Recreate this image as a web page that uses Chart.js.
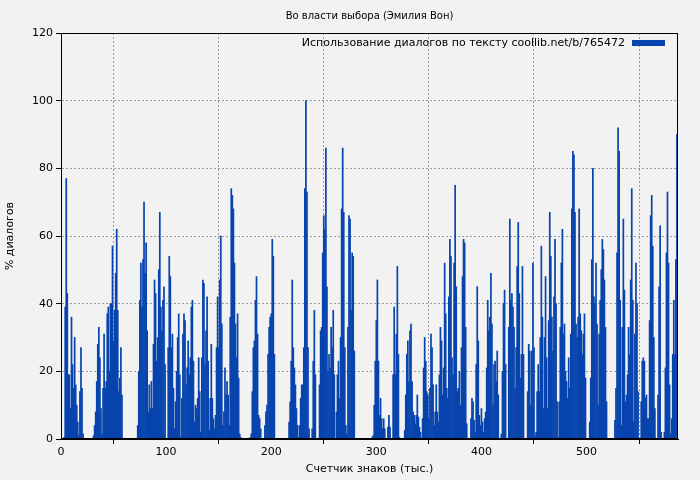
<!DOCTYPE html>
<html><head><meta charset="utf-8">
<script src="https://cdn.jsdelivr.net/npm/chart.js@4/dist/chart.umd.min.js"></script>
<style>html,body{margin:0;padding:0;background:#f2f2f2;}</style>
</head><body>
<canvas id="c" width="700" height="480" style="width:700px;height:480px"></canvas>
<script>
const chartTitle = "Во власти выбора (Эмилия Вон)";
const seriesLabel = "Использование диалогов по тексту coollib.net/b/765472";
const xTitle = "Счетчик знаков (тыс.)";
const yTitle = "% диалогов";
const yTicks = [0,20,40,60,80,100,120];
const xTicks = [0,100,200,300,400,500];
const values = [
0,0,0,0.5,39,77,43,19,19,9,36,22,15,30,16,10,5,1,14,27,15,1.5,
0,0,0,0,0,0,0,0,0,
1,4,8,17,28,33,24,9,1.5,15,31,15,17,37,39,20,40,40,57,29,38,49,62,38,14,18,27,13,
0,0,0,0,0,0,0,0,0,0,0,0,0,0,
4,20,41,52,39,53,70,49,58,32,8,16,9,17,9,28,47,43,23,30,50,67,39,32,41,45,
22,0,0,
27,54,48,27,31,15,3,11,20,30,37,19,0.5,12,31,37,35,16,21,29,19,24,39,41,23,5,10,9,12,24,14,2,
24,47,46,22,32,42,23,2.5,12,28,12,6,3,7,27,42,27,47,60,34,4,
8,21,13,17,13,4,36,74,72,68,52,34,24,37,18,1.5,0.5,
0,0,0,0,0,0,0,0,
0.5,1.5,14,27,29,41,48,31,7,6,3,
0,0,0,
4,8,10,25,33,36,37,59,54,25,
0,0,0,0,0,0,0,0,0,0,0,0,0,
5,11,23,47,27,21,16,9,4,0.5,4,12,16,16,27,74,100,73,27,3,
0,0,
3,23,38,19,
0,0,0,
16,32,33,55,66,62,86,45,20,25,21,33,27,38,19,
0,
8,19,23,12,30,68,86,67,27,4,1.5,33,66,65,38,55,54,26,
0,0,0,0,0,0,0,0,0,0,0,0,0,0,0,0,
0.5,1,10,23,35,47,23,7,12,6,3,6,3,
0,0,
3.5,7,3.5,
0,0,
19,39,19,31,51,25,0.5,
0,0,0,0,
2.5,13,25,29,17,32,34,17,8,7,4.5,7,13,6.5,3.5,2,
0,
6,21,30,23,14,13,6,15,31,27,16,4,8,16,8,5,19,33,29,13,21,52,37,15,12,42,59,54,24,19,52,75,45,14,15,20,10,27,48,59,58,33,4.5,
0,0,0,
6,12,11,5.5,2,22,45,29,
7,4,9,5,2,6,8,21,41,32,36,49,34,10,22,23,17,26,13,0,0,1.5,20,40,44,22,0,0,33,65,41,43,39,33,15,27,51,64,43,18,25,51,25,0,0,0,14,28,26,10,26,52,27,1,2,14,22,14,30,57,36,9,30,48,24,9,35,67,54,36,26,42,59,40,11,0.5,11,33,52,62,31,34,20,17,12,24,15,31,68,85,84,67,34,30,36,68,37,32,25,31,37,
18,0,0,0,5,18,53,80,42,40,52,34,10,31,41,50,59,56,47,33,11,0,0,0,0,0,0,0,5.5,15,55,92,85,41,4,33,65,44,11,13,19,33,25,47,74,41,5,31,52,40,14,0,0,11,23,24,23,12,13,6,6,35,66,72,57,30,9,0,0,13,45,63,2,0,0,2,21,55,73,52,16,1.5,6,25,41,25,53,90
];
const barColor = '#0844ad';
const FONT = "'DejaVu Sans', sans-serif";

const extras = {
  id:'extras',
  beforeDraw(c){const x=c.ctx;x.save();x.fillStyle='#f2f2f2';x.fillRect(0,0,c.width,c.height);x.restore();},
  afterDraw(c){
    const x=c.ctx, a=c.chartArea;
    x.save();
    x.fillStyle='#000';x.font="10px "+FONT;x.textAlign='center';x.textBaseline='middle';
    x.fillText(chartTitle,(a.left+a.right)/2,16);
    x.textAlign='right';x.font="11px "+FONT;
    x.fillText(seriesLabel,a.right-53,43);
    x.fillStyle=barColor;x.fillRect(a.right-46,40,33,6);
    x.restore();
  }
};

new Chart(document.getElementById('c'),{
  type:'bar',
  data:{datasets:[{label:seriesLabel,data:values.map((v,i)=>({x:i,y:v})),backgroundColor:barColor,borderWidth:0,barPercentage:1,categoryPercentage:1}]},
  options:{
    responsive:false,animation:false,
    layout:{padding:{left:0,right:22,top:33,bottom:0}},
    plugins:{legend:{display:false},title:{display:false},tooltip:{enabled:false}},
    scales:{
      x:{type:'linear',min:0,max:values.length,offset:false,
        afterBuildTicks:s=>{s.ticks=xTicks.map(v=>({value:v}));},
        afterFit:s=>{s.height=41;},
        grid:{color:'#999',tickColor:'#000',tickLength:5,drawOnChartArea:true},
        border:{color:'#000',width:1,dash:[2,2]},
        ticks:{color:'#000',font:{size:11,family:FONT},maxRotation:0,padding:2},
        title:{display:true,text:xTitle,color:'#000',font:{size:11,family:FONT},padding:{top:0}}},
      y:{min:0,max:120,
        afterBuildTicks:s=>{s.ticks=yTicks.map(v=>({value:v}));},
        afterFit:s=>{s.width=61;},
        grid:{color:'#999',tickColor:'#000',tickLength:5},
        border:{color:'#000',width:1,dash:[2,2]},
        ticks:{color:'#000',font:{size:11,family:FONT},padding:3},
        title:{display:true,text:yTitle,color:'#000',font:{size:11,family:FONT},padding:{bottom:2}}}
    }
  },
  plugins:[extras,{id:'frame',afterDatasetsDraw(c){const x=c.ctx,a=c.chartArea;x.save();x.strokeStyle='#000';x.lineWidth=1;x.strokeRect(a.left+0.5,a.top+0.5,a.right-a.left-1,a.bottom-a.top-1);x.restore();}}]
});
</script>
</body></html>
